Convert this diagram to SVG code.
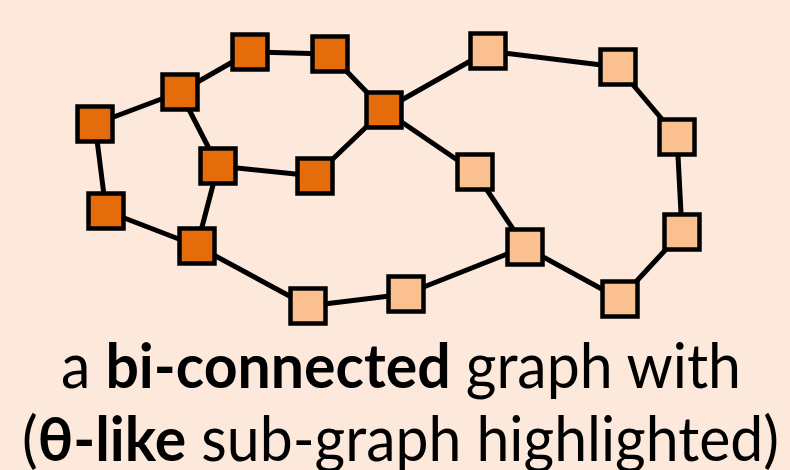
<svg xmlns="http://www.w3.org/2000/svg" width="790" height="470" viewBox="0 0 790 470">
<style>
.e{stroke:#000;stroke-width:5;fill:none}
.n rect{stroke:#000;stroke-width:4.5;width:35px;height:35px}
.d rect{fill:#E46C0A}
.l rect{fill:#FAC090}
.t{font-family:Lato,"Open Sans","Liberation Sans",sans-serif;font-size:62px;fill:#000}
.b{font-weight:bold}
</style>
<rect x="0" y="0" width="790" height="470" fill="#FDE9DB"/>
<g id="connectors">
<line class="e" x1="95" y1="124" x2="180" y2="92"/>
<line class="e" x1="180" y1="92" x2="250" y2="52"/>
<line class="e" x1="250" y1="52" x2="330" y2="54"/>
<line class="e" x1="330" y1="54" x2="384" y2="110"/>
<line class="e" x1="384" y1="110" x2="315" y2="176"/>
<line class="e" x1="315" y1="176" x2="218" y2="166"/>
<line class="e" x1="218" y1="166" x2="180" y2="92"/>
<line class="e" x1="218" y1="166" x2="197" y2="246"/>
<line class="e" x1="95" y1="124" x2="106" y2="211"/>
<line class="e" x1="106" y1="211" x2="197" y2="246"/>
<line class="e" x1="197" y1="246" x2="308" y2="306"/>
<line class="e" x1="308" y1="306" x2="406" y2="294"/>
<line class="e" x1="406" y1="294" x2="525" y2="247"/>
<line class="e" x1="525" y1="247" x2="475" y2="172"/>
<line class="e" x1="475" y1="172" x2="384" y2="110"/>
<line class="e" x1="384" y1="110" x2="488" y2="51"/>
<line class="e" x1="488" y1="51" x2="618" y2="67"/>
<line class="e" x1="618" y1="67" x2="677" y2="137"/>
<line class="e" x1="677" y1="137" x2="682" y2="232"/>
<line class="e" x1="682" y1="232" x2="620" y2="299"/>
<line class="e" x1="620" y1="299" x2="525" y2="247"/>
</g>
<g id="nA" class="n d"><rect x="77.5" y="106.5"/></g>
<g id="nB" class="n d"><rect x="162.5" y="74.5"/></g>
<g id="nC" class="n d"><rect x="232.5" y="34.5"/></g>
<g id="nD" class="n d"><rect x="312.5" y="36.5"/></g>
<g id="nE" class="n d"><rect x="366.5" y="92.5"/></g>
<g id="nF" class="n d"><rect x="200.5" y="148.5"/></g>
<g id="nG" class="n d"><rect x="297.5" y="158.5"/></g>
<g id="nH" class="n d"><rect x="88.5" y="193.5"/></g>
<g id="nI" class="n d"><rect x="179.5" y="228.5"/></g>
<g id="nJ" class="n l"><rect x="470.5" y="33.5"/></g>
<g id="nK" class="n l"><rect x="600.5" y="49.5"/></g>
<g id="nL" class="n l"><rect x="659.5" y="119.5"/></g>
<g id="nM" class="n l"><rect x="457.5" y="154.5"/></g>
<g id="nN" class="n l"><rect x="664.5" y="214.5"/></g>
<g id="nO" class="n l"><rect x="507.5" y="229.5"/></g>
<g id="nP" class="n l"><rect x="602.5" y="281.5"/></g>
<g id="nQ" class="n l"><rect x="388.5" y="276.5"/></g>
<g id="nR" class="n l"><rect x="290.5" y="288.5"/></g>
<g id="caption">
<text class="t" x="61" y="388" textLength="680" lengthAdjust="spacingAndGlyphs">a <tspan class="b">bi-connected</tspan> graph with</text>
<text class="t" x="22" y="461" textLength="757" lengthAdjust="spacingAndGlyphs">(<tspan class="b">θ-like</tspan> sub-graph highlighted)</text>
</g>
</svg>
